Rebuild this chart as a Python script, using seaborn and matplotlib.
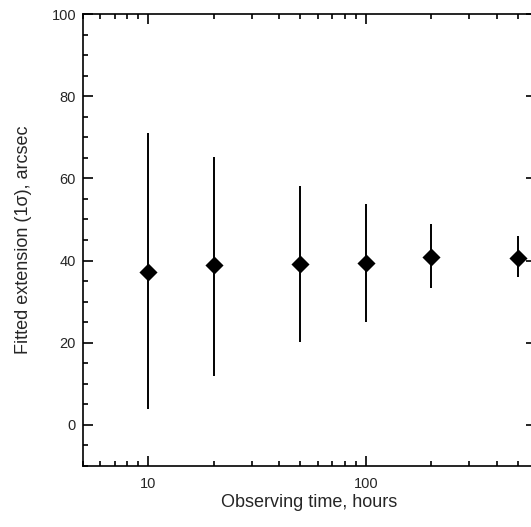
import numpy as np
import pandas as pd
import matplotlib
matplotlib.use("Agg")
import matplotlib.pyplot as plt
import seaborn as sns
from matplotlib.ticker import LogLocator, MultipleLocator, NullFormatter, FixedLocator, FixedFormatter

# values
hours = [10, 20, 50, 100, 200, 500]
extension = [37.3, 38.8, 39.2, 39.3, 40.9, 40.5]
err_low = [3.8, 11.9, 20.2, 25.0, 33.3, 36.1]
err_high = [71.0, 65.1, 58.2, 53.7, 48.8, 46.0]

data = pd.DataFrame({"hours": hours, "ext": extension})

sns.set_style("ticks")
plt.rcParams['font.family'] = ['Liberation Sans', 'DejaVu Sans']

fig = plt.figure(figsize=(5.31, 5.27), dpi=100)
# right spine sits just past the image edge, as in the reference
ax = fig.add_axes([83 / 531, 61 / 527, 453 / 531, 452 / 527])

yerr = [np.array(extension) - np.array(err_low), np.array(err_high) - np.array(extension)]
ax.errorbar(hours, extension, yerr=yerr, fmt="none", ecolor="black", elinewidth=1.4, capsize=0)
sns.scatterplot(x="hours", y="ext", data=data, marker="D", s=85, color="black",
                edgecolor="black", linewidth=0, ax=ax, zorder=3)

ax.set_xscale("log")
ax.set_xlim(5, 607)
ax.set_ylim(-10, 100)
ax.xaxis.set_major_locator(FixedLocator([10, 100]))
ax.xaxis.set_major_formatter(FixedFormatter(["10", "100"]))
ax.xaxis.set_minor_locator(LogLocator(base=10, subs=np.arange(2, 10)))
ax.xaxis.set_minor_formatter(NullFormatter())
ax.yaxis.set_major_locator(MultipleLocator(20))
ax.yaxis.set_minor_locator(MultipleLocator(5))

for s in ax.spines.values():
    s.set_linewidth(1.2)
    s.set_color("black")
ax.tick_params(which="both", direction="in", top=True, right=True, labelsize=10.5, color="black")
ax.tick_params(which="major", length=7, width=1.2)
ax.tick_params(which="minor", length=3.5, width=1.2)
ax.tick_params(axis="y", which="major", pad=5)
ax.tick_params(axis="x", which="major", pad=8)

ax.set_xlabel("Observing time, hours", fontsize=13, labelpad=2)
ax.set_ylabel("Fitted extension (1σ), arcsec", fontsize=13, labelpad=14)

fig.savefig("out.png", dpi=100)
